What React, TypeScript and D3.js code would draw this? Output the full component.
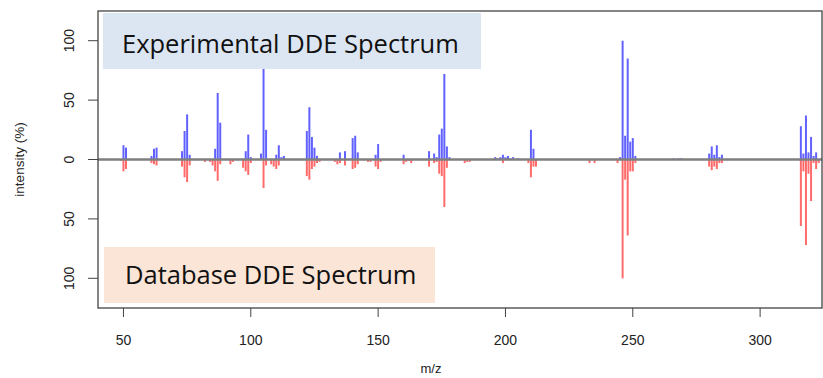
import React, { useEffect, useRef } from 'react'
import * as d3 from 'd3'

// experimental spectrum (plotted upward)
const expMz = [50, 51, 61, 62, 63, 73, 74, 75, 76, 86, 87, 88, 98, 99, 100, 104, 105, 106, 110, 111, 112, 113,
  122, 123, 124, 125, 126, 135, 137, 140, 141, 142, 149, 150, 160, 170, 172, 173, 174, 175, 176, 177, 178,
  196, 197, 198, 199, 200, 201, 202, 203, 205, 210, 211, 245, 246, 247, 248, 249, 250, 251, 266, 268, 269,
  280, 281, 282, 283, 284, 285, 316, 317, 318, 319, 320, 321, 322]
const expInt = [12, 10, 3, 9, 10, 7, 24, 38, 4, 9, 56, 31, 7, 21, 2, 5, 80, 25, 4, 12, 2, 3,
  24, 44, 19, 10, 3, 6, 7, 18, 20, 6, 4, 13, 4, 7, 5, 2, 21, 26, 72, 11, 2,
  2, 1, 2, 4, 2, 3, 1, 2, 1, 25, 9, 2, 100, 20, 85, 15, 18, 3, 1, 1, 1,
  5, 11, 4, 12, 2, 4, 28, 5, 37, 6, 19, 3, 6]

// database spectrum (plotted downward)
const dbMz = [49, 50, 51, 61, 62, 63, 73, 74, 75, 76, 82, 84, 85, 86, 87, 88, 92, 93, 97, 98, 99, 100,
  105, 106, 108, 109, 110, 111, 122, 123, 124, 125, 126, 127, 133, 134, 135, 137, 140, 141, 142, 146, 147,
  149, 150, 151, 160, 161, 162, 163, 170, 172, 173, 174, 175, 176, 177, 184, 185, 186, 199, 209, 210, 211, 212,
  233, 235, 244, 246, 247, 248, 249, 250, 251, 280, 281, 282, 283, 284, 285, 316, 317, 318, 319, 320, 321, 322, 323]
const dbInt = [1, 10, 8, 3, 4, 5, 6, 15, 19, 5, 2, 2, 5, 10, 18, 4, 4, 2, 7, 10, 13, 3,
  24, 5, 4, 6, 8, 5, 14, 17, 8, 6, 3, 2, 2, 4, 3, 5, 8, 7, 4, 2, 2,
  6, 8, 2, 4, 2, 1, 3, 6, 3, 2, 12, 14, 40, 7, 3, 2, 2, 3, 3, 15, 6, 6,
  3, 3, 3, 100, 17, 64, 10, 10, 3, 6, 9, 6, 8, 3, 3, 56, 10, 72, 12, 35, 3, 8, 3]

const xTicks = [50, 100, 150, 200, 250, 300]
const yTicks = [-100, -50, 0, 50, 100]

export default function App() {
  const ref = useRef(null)
  const width = 823
  const height = 378

  useEffect(() => {
    const svg = d3.select(ref.current)
    svg.selectAll('*').remove()

    const left = 98, right = 822, top = 11, bottom = 308
    const x = d3.scaleLinear().domain([40, 324.3]).range([left, right])
    const y = d3.scaleLinear().domain([-125, 125]).range([bottom, top])
    const font = "'Liberation Sans', Arial, sans-serif"

    const g = svg.append('g')

    g.selectAll('.up')
      .data(expMz)
      .join('line')
      .attr('x1', d => x(d)).attr('x2', d => x(d))
      .attr('y1', y(0)).attr('y2', (d, i) => y(expInt[i]))
      .attr('stroke', 'rgba(0,0,255,0.62)')
      .attr('stroke-width', 2)

    g.selectAll('.down')
      .data(dbMz)
      .join('line')
      .attr('x1', d => x(d)).attr('x2', d => x(d))
      .attr('y1', y(0)).attr('y2', (d, i) => y(-dbInt[i]))
      .attr('stroke', 'rgba(255,0,0,0.58)')
      .attr('stroke-width', 2)

    // zero line
    g.append('line')
      .attr('x1', left).attr('x2', right)
      .attr('y1', y(0)).attr('y2', y(0))
      .attr('stroke', '#7f7f7f')
      .attr('stroke-width', 2.5)

    // frame
    g.append('rect')
      .attr('x', left).attr('y', top)
      .attr('width', right - left).attr('height', bottom - top)
      .attr('fill', 'none').attr('stroke', '#444').attr('stroke-width', 1.3)

    // x axis
    const xa = g.append('g')
    xa.selectAll('line')
      .data(xTicks)
      .join('line')
      .attr('x1', d => x(d)).attr('x2', d => x(d))
      .attr('y1', bottom).attr('y2', bottom + 9)
      .attr('stroke', '#444')
    xa.selectAll('text')
      .data(xTicks)
      .join('text')
      .attr('x', d => x(d)).attr('y', 345)
      .attr('text-anchor', 'middle')
      .attr('font-family', font).attr('font-size', 14).attr('fill', '#222')
      .text(d => d)
    g.append('text')
      .attr('x', 431).attr('y', 373)
      .attr('text-anchor', 'middle')
      .attr('font-family', font).attr('font-size', 13).attr('fill', '#222')
      .text('m/z')

    // y axis
    const ya = g.append('g')
    ya.selectAll('line')
      .data(yTicks)
      .join('line')
      .attr('x1', left - 10).attr('x2', left)
      .attr('y1', d => y(d)).attr('y2', d => y(d))
      .attr('stroke', '#444')
    ya.selectAll('text')
      .data(yTicks)
      .join('text')
      .attr('transform', d => `translate(74,${y(d)}) rotate(-90)`)
      .attr('text-anchor', 'middle')
      .attr('font-family', font).attr('font-size', 14).attr('fill', '#222')
      .text(d => Math.abs(d))
    g.append('text')
      .attr('transform', `translate(24,${y(0)}) rotate(-90)`)
      .attr('text-anchor', 'middle')
      .attr('font-family', font).attr('font-size', 13.5).attr('fill', '#222')
      .text('intensity (%)')

    // overlaid labels
    g.append('rect')
      .attr('x', 103).attr('y', 13).attr('width', 378).attr('height', 56)
      .attr('fill', '#dce6f2')
    g.append('text')
      .attr('x', 122).attr('y', 53)
      .attr('font-family', "'Open Sans', sans-serif").attr('font-size', 25.5).attr('fill', '#111')
      .text('Experimental DDE Spectrum')
    g.append('rect')
      .attr('x', 104).attr('y', 247).attr('width', 331).attr('height', 56)
      .attr('fill', '#fbe5d6')
    g.append('text')
      .attr('x', 125).attr('y', 284)
      .attr('font-family', "'Open Sans', sans-serif").attr('font-size', 25.5).attr('fill', '#111')
      .text('Database DDE Spectrum')
  }, [])

  return (
    <svg ref={ref} width={width} height={height}
      style={{ position: 'absolute', left: 0, top: 0, background: '#fff' }} />
  )
}
